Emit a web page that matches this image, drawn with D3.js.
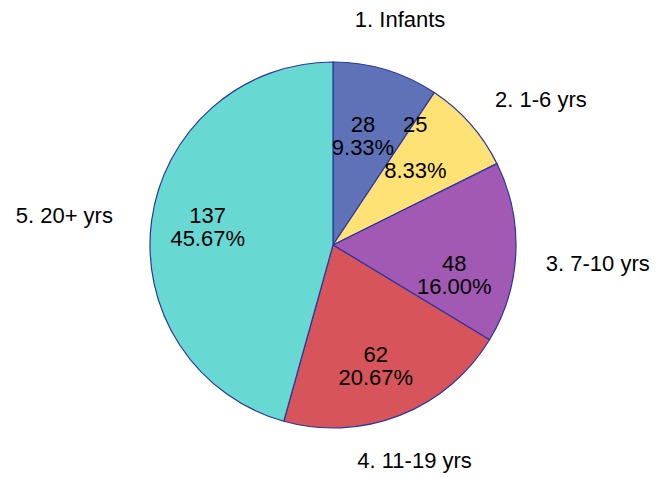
<!DOCTYPE html>
<html>
<head>
<meta charset="utf-8">
<script src="https://cdn.jsdelivr.net/npm/d3@7"></script>
<style>
  body { margin: 0; background: #fff; }
  text { font-family: "Liberation Sans", Arial, sans-serif; fill: #000; }
</style>
</head>
<body>
<div id="chart"></div>
<script>
// chart data
var categories = ["1. Infants", "2. 1-6 yrs", "3. 7-10 yrs", "4. 11-19 yrs", "5. 20+ yrs"];
var counts = [28, 25, 48, 62, 137];
var colors = ["#5f72b8", "#ffe275", "#a259b4", "#d6545a", "#68d8d2"];

// label nudges [dx, dy] (baseline of first line for inner labels)
var innerNudge = [[-6, 6], [-11, -31], [-3, 21], [-3, 1], [-2, -5]];
var outerNudge = [[7, -19], [6, 0], [5, 17], [5, 30], [-14, 6]];

var width = 659, height = 477;
var cx = 333, cy = 245, R = 183;
var fontSize = 22, lineGap = 23;

var svg = d3.select("#chart").append("svg")
  .attr("width", width)
  .attr("height", height);

var total = d3.sum(counts);
var data = categories.map(function(c, i) { return {name: c, value: counts[i], color: colors[i]}; });

var pie = d3.pie().sort(null).value(function(d) { return d.value; });
var arcs = pie(data);

var arc = d3.arc().innerRadius(0).outerRadius(R);
var labelArc = d3.arc().innerRadius(R * 0.68).outerRadius(R * 0.68);

var g = svg.append("g").attr("transform", "translate(" + cx + "," + cy + ")");

g.selectAll("path.slice")
  .data(arcs)
  .enter().append("path")
  .attr("class", "slice")
  .attr("d", arc)
  .attr("fill", function(d) { return d.data.color; })
  .attr("stroke", "#2a36a0")
  .attr("stroke-width", 1.2)
  .attr("stroke-linejoin", "round");

// inner value labels
var fmt = d3.format(".2f");
var inner = g.selectAll("g.inner")
  .data(arcs)
  .enter().append("g")
  .attr("class", "inner")
  .attr("transform", function(d, i) {
    var c = labelArc.centroid(d);
    return "translate(" + (c[0] + innerNudge[i][0]) + "," + (c[1] + innerNudge[i][1]) + ")";
  });

inner.append("text")
  .attr("text-anchor", "middle")
  .attr("font-size", fontSize)
  .text(function(d) { return d.data.value; });

inner.append("text")
  .attr("text-anchor", "middle")
  .attr("font-size", fontSize)
  .attr("y", function(d, i) { return i === 1 ? 46 : lineGap; })
  .text(function(d) { return fmt(d.data.value / total * 100) + "%"; });

// outer category labels
function mid(d) { return (d.startAngle + d.endAngle) / 2; }

g.selectAll("text.outer")
  .data(arcs)
  .enter().append("text")
  .attr("class", "outer")
  .attr("font-size", fontSize)
  .attr("text-anchor", function(d) {
    var s = Math.sin(mid(d));
    return s > 0.5 ? "start" : (s < -0.5 ? "end" : "middle");
  })
  .attr("x", function(d, i) { return Math.sin(mid(d)) * (R + 25) + outerNudge[i][0]; })
  .attr("y", function(d, i) { return -Math.cos(mid(d)) * (R + 25) + outerNudge[i][1]; })
  .text(function(d) { return d.data.name; });
</script>
</body>
</html>
